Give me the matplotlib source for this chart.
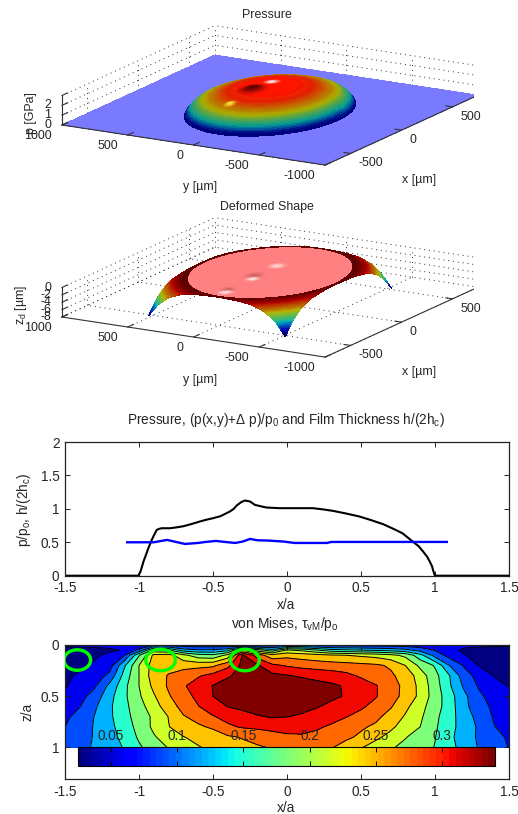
import numpy as np
import matplotlib
matplotlib.use('Agg')
import matplotlib.pyplot as plt
from matplotlib.cm import ScalarMappable
from matplotlib.colors import Normalize
from matplotlib.patches import Ellipse
from mpl_toolkits.mplot3d import proj3d

W, H = 518, 814
plt.rcParams['font.family'] = ['Liberation Sans', 'DejaVu Sans']
plt.rcParams['mathtext.fontset'] = 'custom'
plt.rcParams['mathtext.rm'] = 'Liberation Sans'
plt.rcParams['mathtext.it'] = 'Liberation Sans:italic'
plt.rcParams['mathtext.default'] = 'rm'
TXT = '#262626'
FS3 = 8.9
FS2 = 9.8

# section through the contact
press_x = [-1.5, -1.005, -0.99, -0.97, -0.95, -0.937, -0.915, -0.9, -0.88, -0.865, -0.847, -0.82, -0.79,
           -0.74, -0.70, -0.65, -0.59, -0.54, -0.50, -0.45, -0.386, -0.36, -0.34, -0.31, -0.285, -0.25,
           -0.217, -0.18, -0.14, -0.05, 0.085, 0.175, 0.25, 0.31, 0.40, 0.49, 0.57, 0.65, 0.72, 0.78,
           0.85, 0.89, 0.92, 0.945, 0.965, 0.98, 0.99, 1.0, 1.5]
press_y = [0, 0, 0.06, 0.21, 0.33, 0.41, 0.53, 0.60, 0.685, 0.70, 0.71, 0.71, 0.71,
           0.725, 0.74, 0.77, 0.81, 0.84, 0.86, 0.89, 0.96, 1.0, 1.05, 1.10, 1.125, 1.11,
           1.06, 1.04, 1.02, 1.01, 1.01, 1.01, 0.99, 0.97, 0.93, 0.885, 0.83, 0.77, 0.70, 0.635,
           0.51, 0.44, 0.36, 0.29, 0.21, 0.14, 0.06, 0, 0]
film_x = [-1.08, -0.9, -0.85, -0.81, -0.76, -0.69, -0.6, -0.55, -0.48, -0.42, -0.35, -0.3, -0.25, -0.2,
          -0.12, -0.02, 0.05, 0.15, 0.27, 0.3, 1.08]
film_y = [0.5, 0.5, 0.52, 0.535, 0.51, 0.475, 0.49, 0.505, 0.52, 0.505, 0.49, 0.51, 0.55, 0.53,
          0.525, 0.51, 0.49, 0.49, 0.49, 0.505, 0.505]

# von Mises table
tau_x = np.round(np.arange(-1.5, 1.51, 0.1), 1)
tau_z = [0, 0.05, 0.1, 0.2, 0.3, 0.4, 0.5, 0.6, 0.7, 0.8, 0.9, 1.0]
tau_vals = [
    [.062, .062, .062, .062, .062, .060, .075, .070, .066, .064, .064, .060, .040, .060, .070, .075,
     .075, .072, .070, .070, .070, .068, .068, .066, .064, .062, .060, .060, .060, .060, .060],
    [.040, .042, .045, .050, .056, .090, .180, .170, .125, .115, .115, .130, .220, .180, .150, .200,
     .190, .170, .150, .145, .140, .135, .130, .120, .100, .080, .060, .050, .044, .040, .038],
    [.035, .040, .050, .060, .080, .165, .232, .236, .205, .180, .175, .205, .315, .270, .235, .245,
     .240, .235, .228, .225, .220, .215, .205, .190, .150, .100, .070, .055, .046, .040, .034],
    [.044, .050, .058, .067, .135, .197, .238, .245, .243, .245, .248, .275, .320, .314, .290, .280,
     .274, .270, .268, .265, .262, .259, .250, .225, .190, .165, .110, .078, .052, .046, .040],
    [.050, .057, .065, .090, .150, .197, .240, .256, .270, .280, .293, .308, .320, .322, .318, .313,
     .308, .303, .298, .291, .279, .268, .259, .242, .212, .177, .140, .094, .071, .053, .045],
    [.052, .063, .078, .118, .160, .197, .232, .258, .280, .296, .312, .321, .327, .328, .328, .327,
     .324, .320, .316, .308, .297, .285, .267, .246, .217, .181, .143, .105, .078, .060, .053],
    [.058, .072, .094, .130, .162, .193, .222, .251, .274, .289, .311, .322, .326, .328, .329, .329,
     .327, .322, .316, .309, .296, .285, .266, .245, .218, .183, .151, .117, .087, .070, .062],
    [.068, .081, .106, .135, .160, .186, .213, .240, .264, .282, .298, .312, .318, .322, .323, .323,
     .320, .313, .305, .296, .287, .275, .257, .232, .207, .181, .153, .118, .093, .076, .067],
    [.076, .092, .112, .135, .157, .182, .202, .226, .252, .263, .281, .292, .300, .309, .3135, .3115,
     .307, .301, .293, .284, .275, .261, .243, .222, .202, .175, .150, .125, .100, .079, .070],
    [.082, .098, .113, .133, .152, .178, .203, .224, .240, .250, .258, .278, .286, .289, .293, .295,
     .293, .287, .279, .268, .258, .249, .231, .212, .197, .172, .149, .127, .106, .083, .072],
    [.088, .100, .113, .130, .148, .172, .194, .211, .224, .233, .241, .250, .256, .263, .270, .277,
     .279, .275, .268, .259, .249, .231, .216, .199, .182, .169, .146, .125, .106, .091, .078],
    [.094, .103, .114, .127, .142, .164, .181, .199, .212, .223, .232, .239, .246, .251, .256, .260,
     .261, .259, .256, .243, .227, .213, .201, .188, .178, .167, .148, .129, .108, .095, .081],
]
tau_levels = [.025, .054, .082, .111, .14, .168, .197, .225, .254, .283, .311, .34]
cbar_ticks = [.05, .1, .15, .2, .25, .3]
cbar_labels = ['0.05', '0.1', '0.15', '0.2', '0.25', '0.3']

defect_x = [-1.417, -0.854, -0.285]
defect_z = [0.147, 0.147, 0.147]
defect_w = [0.18, 0.2, 0.196]
defect_h = [0.2, 0.21, 0.21]

# pressure dome, radial profile and local marks
dome_rho = [0, .1, .2, .3, .4, .5, .6, .7, .75, .8, .85, .9, .93, .96, .98, 1.0]
dome_p = [2.42, 2.44, 2.42, 2.34, 2.25, 2.12, 1.94, 1.74, 1.62, 1.47, 1.29, 1.01, 0.80, 0.51, 0.32, 0]
# colour position along jet and brightness, ring by ring from the picture
color_rho = [0, .3, .5, .6, .7, .8, .87, .93, .97, 1.0]
color_pos = [.89, .885, .86, .8, .72, .62, .48, .35, .2, .03]
shade_rho = [0, .3, .5, .7, .85, .95, 1.0]
shade_val = [1.0, 1.0, .88, .72, .65, .6, .5]
dome_a = 515
bump_x = [-90, -307]
bump_y = [60, 66]
bump_h = [0.25, 0.1]
bump_r = [120, 70]
mark_x = [-90, 69, -307]
mark_y = [60, 38, 66]
mark_r = [105, 60, 48]
mark_col = [(.32, 0, 0), (1, 1, 1), (1, .95, .25)]

# deformed shape
deform_rho = [1.0, 1.05, 1.1, 1.2, 1.3, 1.4, 1.5]
deform_z = [0, -.05, -.25, -.9, -2.3, -4.6, -8]
disc_r = 490
patch_half = 520
disc_x = [-85, -150, 113, -376, -431]
disc_y = [48, 15, 35, 28, 7]
disc_sr = [75, 55, 70, 60, 60]
disc_col = [(.8, .38, .38), (1, .93, .93), (1, .85, .85), (.8, .38, .38), (1, .9, .9)]

y_ticks = [1000, 500, 0, -500, -1000]
x_ticks = [-500, 0, 500]


def fig_xy(px, py):
    return px / W, 1 - py / H


def put_text(fig, px, py, s, fs=FS3, **kw):
    x, y = fig_xy(px, py)
    kw.setdefault('ha', 'center')
    kw.setdefault('va', 'center')
    fig.text(x, y, s, color=TXT, fontsize=fs, **kw)


def pixel(ax, x, y, z):
    X, Y, _ = proj3d.proj_transform(x, y, z, ax.get_proj())
    dx, dy = ax.transData.transform((X, Y))
    return dx, H - dy


def place(ax, cx, cy, size):
    ax.set_position([(cx - size / 2) / W, 1 - (cy + size / 2) / H, size / W, size / H])
    ax.figure.canvas.draw()


def make_box(fig, zlim, z_ticks, a_px, c_px):
    ax = fig.add_axes([0, 0, 1, 1], projection='3d', proj_type='ortho', computed_zorder=False)
    ax.view_init(elev=15.3, azim=-150)
    ax.set_xlim(-750, 750, view_margin=0)
    ax.set_ylim(-1000, 1000, view_margin=0)
    ax.set_zlim(zlim[0], zlim[1], view_margin=0)
    ax.set_box_aspect((306, 304, 30.6))
    ax.set_axis_off()
    ax.patch.set_visible(False)
    # move the square axes until two box corners land on the wanted pixels
    cx, cy, size = 270, a_px[1], 520.0
    place(ax, cx, cy, size)
    a = pixel(ax, -750, 1000, zlim[0])
    c = pixel(ax, 750, -1000, zlim[0])
    size *= (c_px[0] - a_px[0]) / (c[0] - a[0])
    place(ax, cx, cy, size)
    a = pixel(ax, -750, 1000, zlim[0])
    cx += a_px[0] - a[0]
    cy += a_px[1] - a[1]
    place(ax, cx, cy, size)

    z0, z1 = zlim
    dot = dict(color='#333333', lw=0.7, ls=(0, (1, 4)), zorder=1)
    for x in x_ticks:
        ax.plot([x, x], [-1000, 1000], [z0, z0], **dot)
        ax.plot([x, x], [1000, 1000], [z0, z1], **dot)
    for y in y_ticks:
        ax.plot([-750, 750], [y, y], [z0, z0], **dot)
        ax.plot([750, 750], [y, y], [z0, z1], **dot)
    for z in z_ticks:
        ax.plot([-750, 750], [1000, 1000], [z, z], **dot)
        ax.plot([750, 750], [-1000, 1000], [z, z], **dot)
    solid = dict(color='#333333', lw=0.8, zorder=6)
    ax.plot([-750, 750], [-1000, -1000], [z0, z0], **solid)
    ax.plot([-750, -750], [-1000, 1000], [z0, z0], **solid)
    ax.plot([-750, -750], [1000, 1000], [z0, z1], **solid)
    for y in y_ticks:
        ax.plot([-750, -695], [y, y], [z0, z0], **solid)
    for x in x_ticks:
        ax.plot([x, x], [-1000, -950], [z0, z0], **solid)
    for z in z_ticks:
        ax.plot([-750, -695], [1000, 1000], [z, z], **solid)
    return ax


def box_labels(fig, ax, z0, z_ticks, z_labels, title, title_py, ylab_py, xlab_py, zlab, zlab_px, zlab_py):
    for y in y_ticks:
        px, py = pixel(ax, -750, y, z0)
        put_text(fig, px - 10, py + 11, str(y), ha='right')
    for x in x_ticks:
        px, py = pixel(ax, x, -1000, z0)
        put_text(fig, px + 8, py + 10, str(x), ha='left')
    for z, s in zip(z_ticks, z_labels):
        px, py = pixel(ax, -750, 1000, z)
        put_text(fig, px - 11, py, s, ha='right')
    put_text(fig, 267, title_py, title)
    put_text(fig, 200, ylab_py, 'y [µm]')
    put_text(fig, 419, xlab_py, 'x [µm]')
    put_text(fig, zlab_px, zlab_py, zlab, rotation=90)


def paint_marks(rgb, X, Y, xs, ys, rs, cols):
    for x, y, r, col in zip(xs, ys, rs, cols):
        d = np.hypot(X - x, Y - y) / r
        w = np.interp(d, [0, .35, .7, 1], [1, .75, .25, 0])[..., None]
        rgb = rgb * (1 - w) + np.array(col) * w
    return rgb


fig = plt.figure(figsize=(W / 100, H / 100), dpi=100)
jet = plt.get_cmap('jet', 64)

# --- pressure surface
ax1 = make_box(fig, (0, 3), [0, 1, 2, 3], (62, 125), (478, 95))
gx, gy = np.meshgrid([-750, 750], [-1000, 1000])
ax1.plot_surface(gx, gy, np.zeros_like(gx, dtype=float), color=(0.48, 0.48, 1.0), shade=False,
                 linewidth=0, antialiased=False, zorder=2)
rho, theta = np.meshgrid(np.linspace(0, 1, 81), np.linspace(0, 2 * np.pi, 181))
dx = dome_a * rho * np.cos(theta)
dy = dome_a * rho * np.sin(theta)
dz = np.interp(rho, dome_rho, dome_p)
for bx, by, bh, br in zip(bump_x, bump_y, bump_h, bump_r):
    dz = dz + bh * np.interp(np.hypot(dx - bx, dy - by) / br, [0, .35, .7, 1], [1, .7, .2, 0])
rgb = jet(np.interp(rho, color_rho, color_pos))[..., :3] * np.interp(rho, shade_rho, shade_val)[..., None]
rgb = paint_marks(rgb, dx, dy, mark_x, mark_y, mark_r, mark_col)
ax1.plot_surface(dx, dy, dz, facecolors=rgb, rstride=1, cstride=1, shade=False, linewidth=0,
                 antialiased=False, zorder=3)
box_labels(fig, ax1, 0, [0, 1, 2], ['0', '1', '2'], 'Pressure', 15, 187, 180, 'p [GPa]', 31, 113)

# --- deformed shape
ax2 = make_box(fig, (-8, 0), [-8, -6, -4, -2, 0], (62, 317), (478, 289))
sx, sy = np.meshgrid(np.linspace(-patch_half, patch_half, 131), np.linspace(-patch_half, patch_half, 131))
sz = np.interp(np.hypot(sx, sy) / disc_r, deform_rho, deform_z)
surf_rgb = jet(Normalize(-8, 0)(sz))[..., :3] * 0.72
ax2.plot_surface(sx, sy, sz, facecolors=surf_rgb, rstride=1, cstride=1, shade=False,
                 linewidth=0, antialiased=False, zorder=2)
rho2, theta2 = np.meshgrid(np.linspace(0, 1, 61), np.linspace(0, 2 * np.pi, 181))
tx = disc_r * rho2 * np.cos(theta2)
ty = disc_r * rho2 * np.sin(theta2)
pink = np.ones(tx.shape + (3,)) * np.array([1.0, 0.5, 0.5])
pink = paint_marks(pink, tx, ty, disc_x, disc_y, disc_sr, disc_col)
ax2.plot_surface(tx, ty, np.zeros_like(tx), facecolors=pink, rstride=1, cstride=1, shade=False,
                 linewidth=0, antialiased=False, zorder=3)
box_labels(fig, ax2, -8, [-8, -6, -4, -2, 0], ['-8', '-6', '-4', '-2', '0'], 'Deformed Shape', 207, 380, 372,
           'z$_d$ [µm]', 21, 305)

# --- line plot
ax3 = fig.add_axes([65 / W, 1 - 575.7 / H, 444 / W, 133.7 / H])
ax3.plot(press_x, press_y, color='k', lw=1.5)
ax3.plot(film_x, film_y, color='#0000ff', lw=1.7)
ax3.set_xlim(-1.5, 1.5)
ax3.set_ylim(0, 2)
ax3.set_xticks([-1.5, -1, -.5, 0, .5, 1, 1.5], ['-1.5', '-1', '-0.5', '0', '0.5', '1', '1.5'])
ax3.set_yticks([0, .5, 1, 1.5, 2], ['0', '0.5', '1', '1.5', '2'])
put_text(fig, 286, 420, 'Pressure, (p(x,y)+Δ p)/p$_0$ and Film Thickness h/(2h$_c$)', fs=FS2)
put_text(fig, 286, 605, 'x/a', fs=FS2)
put_text(fig, 24, 510, 'p/p$_o$, h/(2h$_c$)', fs=FS2, rotation=90)

# --- von Mises contours
ax4 = fig.add_axes([65 / W, 1 - 779 / H, 444 / W, 134 / H])
norm_t = Normalize(tau_levels[0], tau_levels[-1])
plain_jet = plt.get_cmap('jet')
band_colors = [plain_jet(k / (len(tau_levels) - 2)) for k in range(len(tau_levels) - 1)]
ax4.contourf(tau_x, tau_z, tau_vals, levels=tau_levels, colors=band_colors)
ax4.contour(tau_x, tau_z, tau_vals, levels=tau_levels[1:-1], colors='k', linewidths=0.7)
for cx, cz, w, h in zip(defect_x, defect_z, defect_w, defect_h):
    ax4.add_patch(Ellipse((cx, cz), w, h, fill=False, edgecolor=(0, 1, 0), lw=2.4, zorder=5))
ax4.set_xlim(-1.5, 1.5)
ax4.set_ylim(1.31, 0)
ax4.set_xticks([-1.5, -1, -.5, 0, .5, 1, 1.5], ['-1.5', '-1', '-0.5', '0', '0.5', '1', '1.5'])
ax4.set_yticks([0, .5, 1], ['0', '0.5', '1'])
put_text(fig, 285, 624, 'von Mises, τ$_{vM}$/p$_o$', fs=10)
put_text(fig, 286, 808, 'x/a', fs=FS2)
put_text(fig, 27, 712, 'z/a', fs=FS2, rotation=90)

for ax in (ax3, ax4):
    ax.tick_params(direction='in', length=3.5, width=0.7, top=True, right=True, labelsize=FS2,
                   labelcolor=TXT, color='#222222', pad=4)
    for sp in ax.spines.values():
        sp.set_linewidth(0.9)
        sp.set_color('#222222')

cax = fig.add_axes([78 / W, 1 - 766 / H, 417 / W, 19.3 / H], zorder=10)
cb = fig.colorbar(ScalarMappable(norm=norm_t, cmap=jet), cax=cax, orientation='horizontal')
cb.set_ticks(cbar_ticks, labels=cbar_labels)
cax.xaxis.set_ticks_position('top')
cax.tick_params(axis='x', direction='in', length=3.5, width=0.7, labelsize=FS2, labelcolor=TXT,
                color='k', pad=3, top=True, labeltop=True, bottom=True, labelbottom=False)
cb.outline.set_linewidth(0.8)

fig.savefig('out.png', dpi=100)
